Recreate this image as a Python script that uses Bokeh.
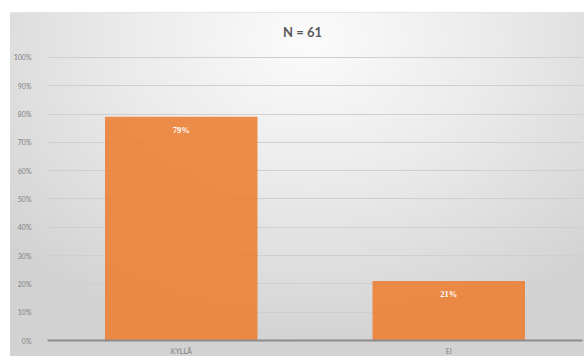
from bokeh.plotting import figure
from bokeh.models import ColumnDataSource, LabelSet, NumeralTickFormatter, FixedTicker, Range1d, Label
from bokeh.embed import file_html
from bokeh.resources import INLINE

categories = ["KYLLÄ", "EI"]
values = [0.79, 0.21]
value_labels = ["79%", "21%"]
y_ticks = [0, 0.1, 0.2, 0.3, 0.4, 0.5, 0.6, 0.7, 0.8, 0.9, 1.0]
title_text = "N = 61"

source = ColumnDataSource(dict(cat=categories, val=values, lab=value_labels))

p = figure(x_range=categories, y_range=Range1d(0, 1.155), width=574, height=344,
           output_backend="svg", toolbar_location=None,
           min_border_left=37, min_border_right=2, min_border_top=0, min_border_bottom=16)
p.title.visible = False
p.margin = (12, 0, 0, 10)
p.styles = {"background": "radial-gradient(ellipse 70% 90% at 52% 8%, #fbfbfb 0%, #ebebeb 45%, #d2d2d2 100%)",
            "border-top": "1px solid #e4e4e4"}
p.background_fill_alpha = 0
p.border_fill_alpha = 0
p.outline_line_color = None

p.vbar(x="cat", top="val", width=0.57, source=source, fill_color="#ED7D31", fill_alpha=0.88, line_color=None)

labels = LabelSet(x="cat", y="val", text="lab", source=source, text_align="center", text_baseline="top",
                  y_offset=-8, text_color="white", text_font_style="bold", text_font_size="8.5px",
                  text_font="Lato")
p.add_layout(labels)

title = Label(x=255, y=309, x_units="screen", y_units="screen", text=title_text,
              text_align="center", text_baseline="middle", text_font="Lato",
              text_font_size="13px", text_font_style="bold", text_color="#595959")
p.add_layout(title)

p.yaxis.ticker = FixedTicker(ticks=y_ticks)
p.yaxis.formatter = NumeralTickFormatter(format="0%")
p.yaxis.axis_line_color = None
p.yaxis.major_tick_line_color = None
p.yaxis.minor_tick_line_color = None
p.yaxis.major_label_standoff = 10
p.yaxis.major_label_text_font_size = "7px"
p.yaxis.major_label_text_color = "#808080"
p.yaxis.major_label_text_font = "Lato"

p.xaxis.axis_line_color = "#8c8c8c"
p.xaxis.axis_line_width = 2
p.xaxis.major_tick_line_color = None
p.xaxis.minor_tick_line_color = None
p.xaxis.major_label_standoff = 0
p.xaxis.major_label_text_font_size = "7px"
p.xaxis.major_label_text_color = "#808080"
p.xaxis.major_label_text_font = "Lato"

p.xgrid.grid_line_color = None
p.ygrid.grid_line_color = "#cfcfcf"
p.ygrid.grid_line_width = 1
p.x_range.range_padding = 0

open("out.html", "w").write(file_html(p, INLINE))
